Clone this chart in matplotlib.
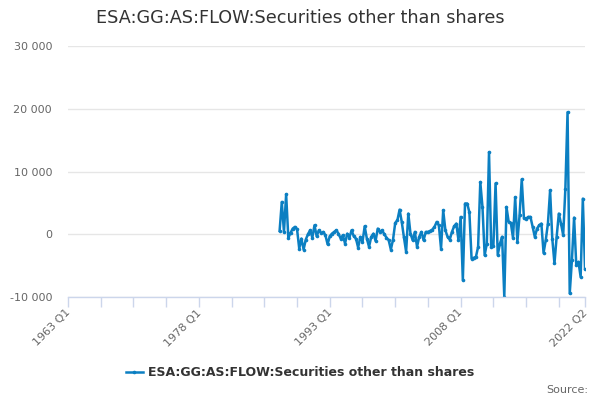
import matplotlib
matplotlib.use("Agg")
import matplotlib.pyplot as plt
import matplotlib.transforms as mtransforms
import numpy as np

# Quarterly categories 1963 Q1 .. 2022 Q2
quarters = [f"{y} Q{q}" for y in range(1963, 2023) for q in range(1, 5)]
quarters = quarters[:quarters.index("2022 Q2") + 1]

values = [
    530, 5140, 370, 6360, -580, 200, 900, 1170, 800, -2280,
    -690, -2440, -850, 0, 640, -530, 1430, -320, 640, 210,
    370, -160, -1590, -320, 100, 370, 640, 100, -690, -160,
    -1480, 100, -530, 640, -320, -690, -2120, -420, -1220, 1270,
    -690, -2010, -420, 100, -1060, 900, 370, 640, 0, -530,
    -950, -2440, -850, 1800, 2230, 3920, 1960,
    -500, -2800, 3290, 100, -950, 370, -2000,
    -420, 370, -950, 370, 370, 530, 740, 1170, 1960, 1430,
    -2280, 3800, 640, -420, -850, 370, 1270, 1700, -950, 2750,
    -7300, 4900, 4900, 3500, -3870, -3760, -3600, -2010, 8320, 4350,
    -3340, -1480, 13090, -2000, -1900, 8100, -3300, -1500, -400, -9950,
    4350, 2000, 1800, -600, 5900, -1200, 3000, 8750, 2600, 2500,
    2760, 2760, 1170, -420, 900, 1430, 1700, -2970, -950, 1700,
    7000, -690, -4660, -420, 3290, 1700, -160, 7260, 19450, -9430,
    -4130, 2650, -4930, -4400, -6800, 5670, -5460,
]

labelled = ["1963 Q1", "1978 Q1", "1993 Q1", "2008 Q1", "2022 Q2"]
y_ticks = [-10000, 0, 10000, 20000, 30000]
series_name = "ESA:GG:AS:FLOW:Securities other than shares"
title = "ESA:GG:AS:FLOW:Securities other than shares"

n = len(quarters)
# the series runs up to the last category
y = np.full(n, np.nan)
y[n - len(values):] = values
x = np.arange(n)

color = "#0b7fc2"
fig = plt.figure(figsize=(6, 4), dpi=100)
ax = fig.add_axes([68 / 600, 1 - 297 / 400, (585 - 68) / 600, (297 - 46) / 400])

line, = ax.plot(x, y, color=color, lw=1.8, marker="o", ms=2.6, mew=0,
                label=series_name, solid_joinstyle="round")

ax.set_xlim(0, n - 1)
ax.set_ylim(-10000, 30000)
ax.set_yticks(y_ticks)
ax.set_yticklabels([f"{v:,}".replace(",", " ") for v in y_ticks])
ax.yaxis.grid(True, color="#e6e6e6", lw=1)
ax.set_axisbelow(True)
ax.tick_params(axis="y", length=0, labelsize=8, labelcolor="#666666", pad=11.5)

major = list(range(0, n - 1, 15)) + [n - 1]
ax.set_xticks(major)
ax.set_xticklabels([quarters[i] if quarters[i] in labelled else "" for i in major],
                   rotation=45, ha="right", va="top", rotation_mode="anchor")
ax.tick_params(axis="x", length=7, width=1, color="#ccd6eb", labelsize=8,
               labelcolor="#666666", pad=2, direction="out")
shift = mtransforms.ScaledTranslation(-3 / 100, 2 / 100, fig.dpi_scale_trans)
for lab in ax.get_xticklabels():
    lab.set_transform(lab.get_transform() + shift)

for s in ["top", "right", "left"]:
    ax.spines[s].set_visible(False)
ax.spines["bottom"].set_color("#ccd6eb")
ax.spines["bottom"].set_linewidth(1)

fig.text(0.5, 1 - 18 / 400, title, ha="center", va="center", fontsize=12.7,
         color="#333333")

leg = fig.legend(handles=[line], loc="center", bbox_to_anchor=(0.5, 1 - 373 / 400),
                 frameon=False, prop={"weight": "bold", "size": 9},
                 handlelength=1.3, handletextpad=0.4, markerscale=1.0)
for t in leg.get_texts():
    t.set_color("#333333")

fig.text(588 / 600, 1 - 390 / 400, "Source:", ha="right", va="center",
         fontsize=8, color="#666666")

fig.savefig("out.png", dpi=100)
